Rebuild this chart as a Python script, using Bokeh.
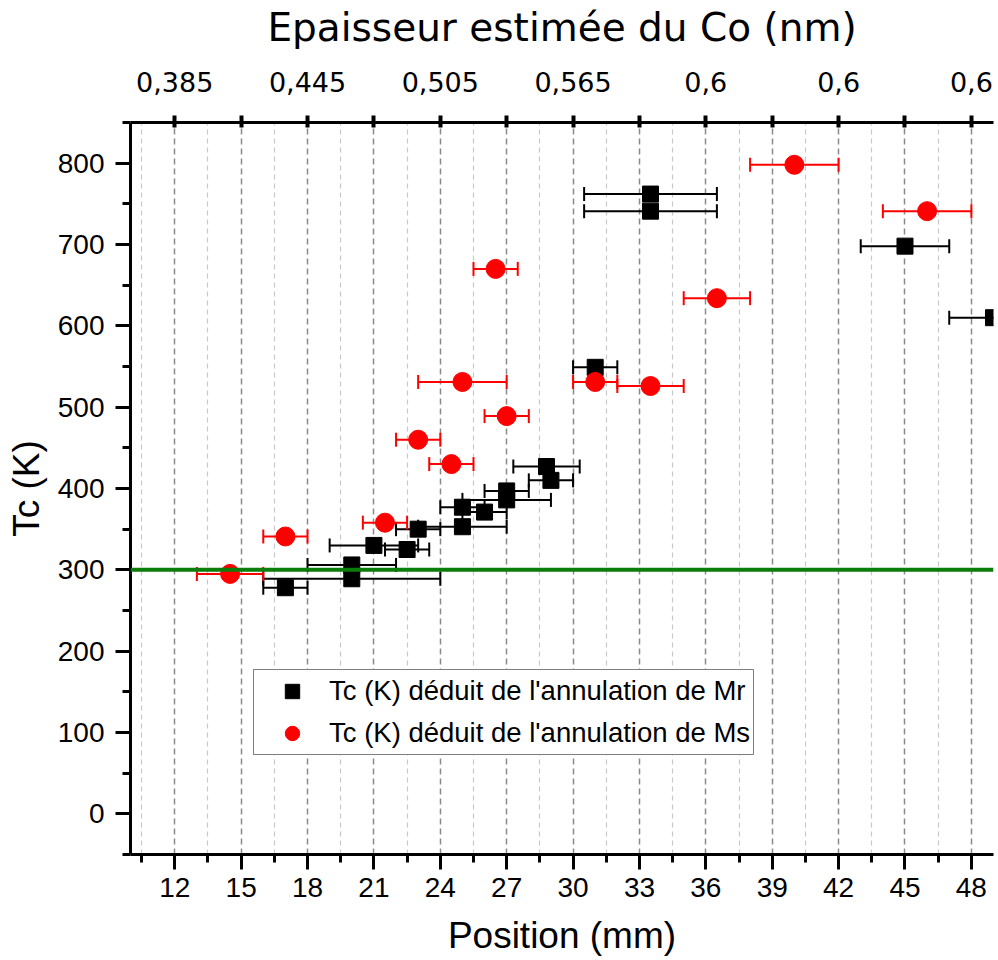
from bokeh.plotting import figure
from bokeh.models import (ColumnDataSource, Whisker, TeeHead, Span, Legend, LegendItem,
                          LinearAxis, FixedTicker, Range1d)
from bokeh.embed import file_html
from bokeh.resources import INLINE

# ---- data ----
mr_pos = [17, 20, 20, 21, 22.5, 23, 25, 25, 26, 27, 27, 28.8, 29, 31, 33.5, 33.5, 45, 49]
mr_tc = [278, 306, 289, 330, 325, 350, 353, 377, 371, 397, 386, 427, 410, 549, 762, 741, 698, 610]
mr_err = [1, 2, 4, 2, 1, 1, 2, 1, 1, 1, 2, 1.5, 1, 1, 3, 3, 2, 2]

ms_pos = [14.5, 17, 21.5, 23, 24.5, 25, 26.5, 27, 31, 33.5, 36.5, 40, 46]
ms_tc = [295, 341, 358, 460, 430, 531, 670, 489, 531, 526, 634, 798, 741]
ms_err = [1.5, 1, 1, 1, 1, 2, 1, 1, 1, 1.5, 1.5, 2, 2]

room_temp = 300

pos_ticks = [12, 15, 18, 21, 24, 27, 30, 33, 36, 39, 42, 45, 48]
pos_minor = [10.5, 13.5, 16.5, 19.5, 22.5, 25.5, 28.5, 31.5, 34.5, 37.5, 40.5, 43.5, 46.5]
tc_ticks = [0, 100, 200, 300, 400, 500, 600, 700, 800]
tc_minor = [-50, 50, 150, 250, 350, 450, 550, 650, 750, 850]
top_ticks = [12, 15, 18, 21, 24, 27, 30, 33, 36, 39, 42, 45, 48]
top_labelled = [12, 18, 24, 30, 36, 42, 48]
top_labels = ["0,385", "0,445", "0,505", "0,565", "0,6", "0,6", "0,6"]

label_mr = "Tc (K) déduit de l'annulation de Mr"
label_ms = "Tc (K) déduit de l'annulation de Ms"
x_title = "Position (mm)"
y_title = "Tc (K)"
top_title = "Epaisseur estimée du Co (nm)"

# ---- figure ----
p = figure(width=998, height=960, x_range=Range1d(10, 49), y_range=Range1d(-50, 850),
           output_backend="svg", toolbar_location=None,
           min_border_left=130, min_border_right=5, min_border_top=122, min_border_bottom=106)
p.outline_line_color = None
p.background_fill_color = "white"

mr_src = ColumnDataSource(dict(x=mr_pos, y=mr_tc,
                               lo=[a - e for a, e in zip(mr_pos, mr_err)],
                               hi=[a + e for a, e in zip(mr_pos, mr_err)]))
ms_src = ColumnDataSource(dict(x=ms_pos, y=ms_tc,
                               lo=[a - e for a, e in zip(ms_pos, ms_err)],
                               hi=[a + e for a, e in zip(ms_pos, ms_err)]))

def whisk(src, color):
    return Whisker(source=src, base="y", lower="lo", upper="hi", dimension="width",
                   line_color=color, line_width=2,
                   upper_head=TeeHead(size=14, line_color=color, line_width=2),
                   lower_head=TeeHead(size=14, line_color=color, line_width=2))

p.add_layout(whisk(mr_src, "black"))
p.add_layout(whisk(ms_src, "#ff0000"))

r_mr = p.scatter("x", "y", source=mr_src, marker="square", size=16,
                 fill_color="black", line_color="black")
r_ms = p.scatter("x", "y", source=ms_src, marker="circle", size=19,
                 fill_color="#ff0000", line_color="#ff0000")

p.add_layout(Span(location=room_temp, dimension="width", line_color="#0a7d0a", line_width=4))

# ---- grid ----
p.ygrid.grid_line_color = None
p.xgrid.ticker = FixedTicker(ticks=pos_ticks, minor_ticks=pos_minor)
p.xgrid.grid_line_color = "#8a8a8a"
p.xgrid.grid_line_dash = "6 4"
p.xgrid.grid_line_width = 1.5
p.xgrid.minor_grid_line_color = "#c8c8c8"
p.xgrid.minor_grid_line_dash = "5 4"
p.xgrid.minor_grid_line_width = 1.2

# ---- axes ----
tick_font = "Liberation Sans"
for ax in (p.xaxis[0], p.yaxis[0]):
    ax.axis_line_width = 3
    ax.major_tick_line_width = 3
    ax.minor_tick_line_width = 3
    ax.major_tick_in = 0
    ax.major_tick_out = 15
    ax.minor_tick_in = 0
    ax.minor_tick_out = 8
    ax.major_label_text_font = tick_font
    ax.major_label_text_font_size = "28px"
    ax.major_label_text_color = "black"
    ax.axis_label_text_font = tick_font
    ax.axis_label_text_font_size = "37px"
    ax.axis_label_text_font_style = "normal"
    ax.axis_label_text_color = "black"

p.xaxis[0].ticker = FixedTicker(ticks=pos_ticks, minor_ticks=pos_minor)
p.xaxis[0].axis_label = x_title
p.xaxis[0].major_label_standoff = 8
p.xaxis[0].axis_label_standoff = 15

p.yaxis[0].ticker = FixedTicker(ticks=tc_ticks, minor_ticks=tc_minor)
p.yaxis[0].axis_label = y_title
p.yaxis[0].major_label_standoff = 11
p.yaxis[0].axis_label_standoff = 8

overrides = {t: "" for t in top_ticks}
for t, lab in zip(top_labelled, top_labels):
    overrides[t] = lab
top = LinearAxis(ticker=FixedTicker(ticks=top_ticks, minor_ticks=[]),
                 major_label_overrides=overrides, axis_label=top_title)
top.axis_line_width = 3
top.major_tick_line_width = 4
top.major_tick_in = 5
top.major_tick_out = 7
top.minor_tick_line_color = None
top.major_label_text_font = "DejaVu Sans"
top.major_label_text_font_size = "27px"
top.major_label_text_color = "black"
top.major_label_standoff = 24
top.axis_label_text_font = "DejaVu Sans"
top.axis_label_text_font_size = "39px"
top.axis_label_text_font_style = "normal"
top.axis_label_text_color = "black"
top.axis_label_standoff = 19
p.add_layout(top, "above")

# ---- legend ----
legend = Legend(items=[LegendItem(label=label_mr, renderers=[r_mr]),
                       LegendItem(label=label_ms, renderers=[r_ms])],
                location=(123, 99))
legend.label_text_font = tick_font
legend.label_text_font_size = "27.5px"
legend.label_text_color = "black"
legend.glyph_width = 70
legend.glyph_height = 36
legend.label_height = 36
legend.label_standoff = 2
legend.padding = 3
legend.spacing = 6
legend.margin = 0
legend.border_line_color = "black"
legend.border_line_width = 1.5
legend.background_fill_color = "white"
legend.background_fill_alpha = 1
p.add_layout(legend)

open("out.html", "w").write(file_html(p, INLINE))
